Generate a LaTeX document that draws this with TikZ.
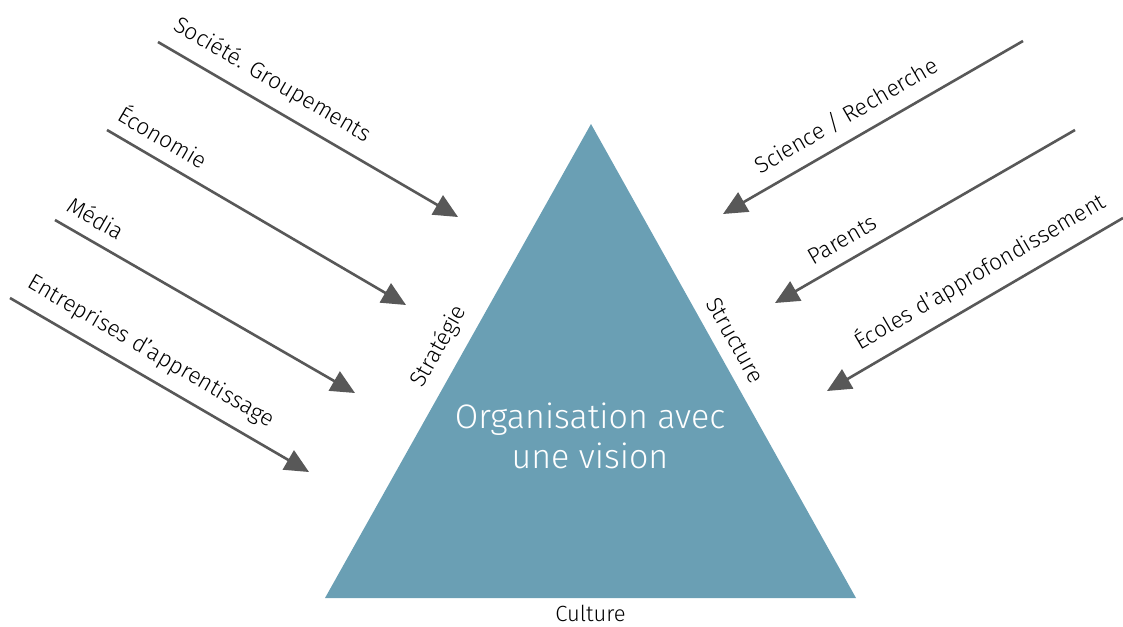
\documentclass[tikz,border=0pt]{standalone}
\usepackage{fontspec}
\setmainfont{Fira Sans}[UprightFont={* Light}]
\usetikzlibrary{arrows.meta}
\definecolor{pyramid}{HTML}{6A9FB4}
\definecolor{arrowgray}{HTML}{585858}

\begin{document}
\begin{tikzpicture}[x=0.5pt,y=-0.5pt,
	influence/.style={draw=arrowgray,line width=1.3pt,-{Triangle[length=12pt,width=11pt]}},
	lbl/.style={font=\fontsize{11.4}{13}\selectfont,sloped,above=4pt,inner sep=2pt}]
	\useasboundingbox (0,0) rectangle (1123,626);
	% pyramid
	\coordinate (top) at (591,124);
	\coordinate (bl) at (325,598);
	\coordinate (br) at (856,598);
	\fill[pyramid] (top) -- (br) -- (bl) -- cycle;
	\path (bl) -- node[lbl,pos=0.506] (strat) {Stratégie} (top);
	\path (top) -- node[lbl,pos=0.477] (struct) {Structure} (br);
	\path (bl) -- node[below=0pt,font=\fontsize{11}{13}\selectfont] (cult) {Culture} (br);
	\node[text=white,align=center,font=\fontsize{17}{20}\selectfont] (vision) at (590,436)
		{Organisation avec\\une vision};
	% influences from the left
	\coordinate (soc0) at (158,42);   \coordinate (soc1) at (458,217);
	\coordinate (eco0) at (107,130);  \coordinate (eco1) at (406,305);
	\coordinate (med0) at (55,220);   \coordinate (med1) at (355,393);
	\coordinate (ent0) at (10,298);   \coordinate (ent1) at (309,472);
	\draw[influence] (soc0) -- node[lbl,pos=0.34] (soc) {Société. Groupements} (soc1);
	\draw[influence] (eco0) -- node[lbl,pos=0.15] (eco) {Économie} (eco1);
	\draw[influence] (med0) -- node[lbl,pos=0.10] (med) {Média} (med1);
	\draw[influence] (ent0) -- node[lbl,pos=0.43] (ent) {Entreprises d’apprentissage} (ent1);
	% influences from the right
	\coordinate (sci0) at (1023,41);  \coordinate (sci1) at (723,214);
	\coordinate (par0) at (1075,130); \coordinate (par1) at (775,303);
	\coordinate (eco2) at (1123,218); \coordinate (eco3) at (827,391);
	\draw[influence] (sci0) -- node[lbl,pos=0.55] (sci) {Science / Recherche} (sci1);
	\draw[influence] (par0) -- node[lbl,pos=0.74] (par) {Parents} (par1);
	\draw[influence] (eco2) -- node[lbl,pos=0.44] (ecol) {Écoles d’approfondissement} (eco3);
\end{tikzpicture}
\end{document}
